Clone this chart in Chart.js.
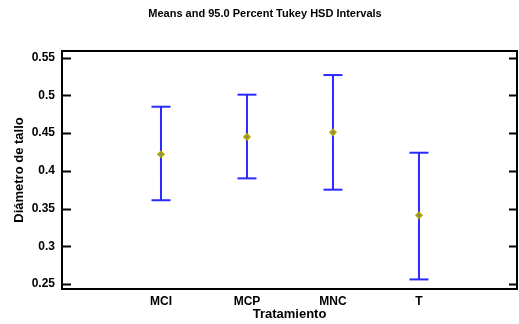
<!DOCTYPE html>
<html>
<head>
<meta charset="utf-8">
<script src="https://cdn.jsdelivr.net/npm/chart.js@4/dist/chart.umd.min.js"></script>
<style>
html,body{margin:0;padding:0;background:#fff;}
#wrap{width:519px;height:324px;position:relative;}
</style>
</head>
<body>
<div id="wrap"><canvas id="c" width="519" height="324"></canvas></div>
<script>
const categories = ["MCI", "MCP", "MNC", "T"];
const means = [0.422, 0.445, 0.451, 0.341];
const lower = [0.361, 0.390, 0.375, 0.256];
const upper = [0.485, 0.501, 0.527, 0.424];
const yTicks = [0.25, 0.3, 0.35, 0.4, 0.45, 0.5, 0.55];
const titleText = "Means and 95.0 Percent Tukey HSD Intervals";
const xTitle = "Tratamiento";
const yTitle = "Diámetro de tallo";

const FONT = "'Liberation Sans', Arial, sans-serif";
const BLUE = "#2a2aff";

const barData = [];
categories.forEach((c, i) => {
  barData.push({x: i, y: lower[i]});
  barData.push({x: i, y: upper[i]});
  barData.push({x: i, y: null});
});

const framePlugin = {
  id: 'frame',
  afterDatasetsDraw(chart) {
    const {ctx, chartArea: a, scales: {y}} = chart;
    ctx.save();
    ctx.strokeStyle = '#000';
    ctx.lineWidth = 2;
    yTicks.forEach(v => {
      const py = Math.round(y.getPixelForValue(v)) + 0.5;
      ctx.beginPath();
      ctx.moveTo(a.left, py); ctx.lineTo(a.left + 9, py);
      ctx.moveTo(a.right, py); ctx.lineTo(a.right - 8, py);
      ctx.stroke();
    });
    ctx.strokeRect(a.left, a.top, a.right - a.left, a.bottom - a.top);
    ctx.restore();
  }
};

const titlePlugin = {
  id: 'mytitle',
  afterDraw(chart) {
    const ctx = chart.ctx;
    ctx.save();
    ctx.font = "bold 11px " + FONT;
    ctx.fillStyle = '#000';
    ctx.textAlign = 'center';
    ctx.textBaseline = 'alphabetic';
    ctx.fillText(titleText, 265, 17);
    ctx.restore();
  }
};

new Chart(document.getElementById('c'), {
  type: 'scatter',
  data: {
    datasets: [
      {
        type: 'line',
        data: barData,
        borderColor: BLUE,
        borderWidth: 2,
        pointRadius: 0,
        spanGaps: false,
        fill: false,
        order: 3
      },
      {
        data: upper.map((v, i) => ({x: i, y: v})),
        pointStyle: 'line',
        pointRadius: 9.5,
        borderColor: BLUE,
        borderWidth: 2,
        order: 2
      },
      {
        data: lower.map((v, i) => ({x: i, y: v})),
        pointStyle: 'line',
        pointRadius: 9.5,
        borderColor: BLUE,
        borderWidth: 2,
        order: 2
      },
      {
        data: means.map((v, i) => ({x: i, y: v})),
        pointStyle: 'rectRot',
        pointRadius: 3,
        borderColor: '#b0a800',
        backgroundColor: '#8a8a60',
        borderWidth: 1.5,
        order: 1
      }
    ]
  },
  options: {
    responsive: false,
    animation: false,
    devicePixelRatio: 1,
    layout: {autoPadding: false, padding: {top: 51, right: 2, left: 0, bottom: 0}},
    plugins: {legend: {display: false}, tooltip: {enabled: false}, title: {display: false}},
    scales: {
      x: {
        type: 'linear',
        min: -1.151,
        max: 4.14,
        afterBuildTicks(scale) { scale.ticks = categories.map((c, i) => ({value: i})); },
        afterFit(scale) { scale.height = 35; },
        ticks: {
          callback: (v) => categories[v] !== undefined ? categories[v] : '',
          font: {family: FONT, size: 12, weight: 'bold'},
          color: '#000',
          padding: 5,
          maxRotation: 0,
          autoSkip: false
        },
        grid: {display: false, drawTicks: false},
        border: {display: false},
        title: {
          display: true,
          text: xTitle,
          font: {family: FONT, size: 13, weight: 'bold'},
          color: '#000',
          padding: {top: 0, bottom: 2}
        }
      },
      y: {
        type: 'linear',
        min: 0.2433,
        max: 0.5589,
        afterBuildTicks(scale) { scale.ticks = yTicks.map(v => ({value: v})); },
        afterFit(scale) { scale.width = 62; },
        ticks: {
          callback: (v) => String(Math.round(v * 100) / 100),
          font: {family: FONT, size: 12, weight: 'bold'},
          color: '#000',
          padding: 7
        },
        grid: {display: false, drawTicks: false},
        border: {display: false},
        title: {
          display: true,
          text: yTitle,
          font: {family: FONT, size: 13, weight: 'bold'},
          color: '#000',
          padding: {top: 12, bottom: 0}
        }
      }
    }
  },
  plugins: [framePlugin, titlePlugin]
});
</script>
</body>
</html>
